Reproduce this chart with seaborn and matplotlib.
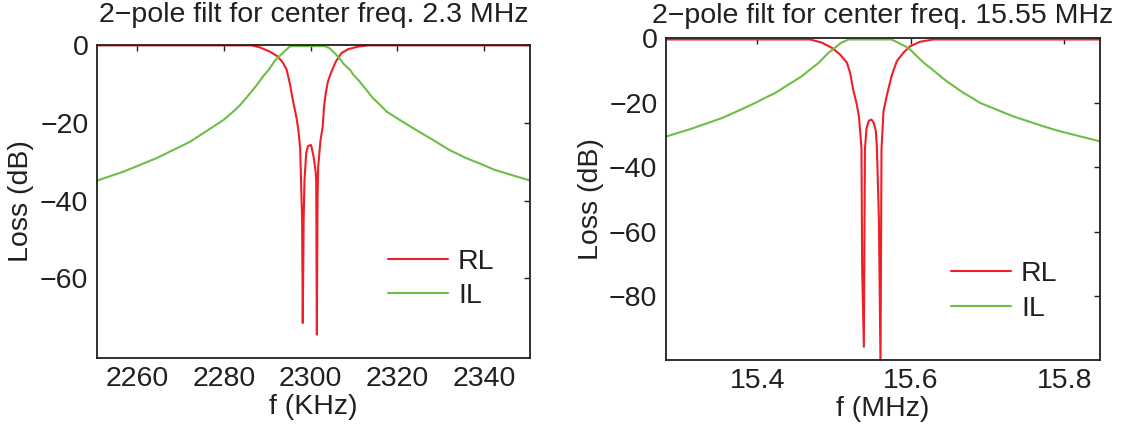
import matplotlib
matplotlib.use("Agg")
import matplotlib.pyplot as plt
import seaborn as sns
import pandas as pd

# ---------------- data ----------------
# Left panel: centre 2.3 MHz, x in KHz
rl1_f = [2250.7, 2286.4, 2288.3, 2290.6, 2292.5, 2293.7, 2294.5, 2295.2, 2295.9, 2296.7,
         2297.2, 2297.6, 2297.8, 2298.05, 2298.2, 2298.4, 2298.6, 2299.0, 2299.4, 2300.1,
         2300.7, 2301.2, 2301.3, 2301.45, 2301.6, 2301.75, 2302.3, 2302.8, 2303.1, 2303.5,
         2304.0, 2304.8, 2305.8, 2307.1, 2308.6, 2311.0, 2313.3, 2350.7]
rl1_db = [-0.1, -0.1, -0.6, -1.7, -3.0, -4.7, -6.4, -9.8, -14.1, -18.4,
          -21.9, -26.6, -34.7, -45.0, -71.5, -45.0, -34.7, -27.8, -26.0, -25.7,
          -28.7, -32.9, -34.7, -74.5, -40.0, -31.4, -24.4, -21.0, -15.9, -12.4,
          -9.4, -6.9, -4.3, -2.1, -1.1, -0.4, -0.1, -0.1]
il1_f = [2250.7, 2256.8, 2264.5, 2272.2, 2279.9, 2282.2, 2283.8, 2285.7, 2287.6, 2289.1,
         2290.4, 2291.8, 2292.9, 2294.1, 2295.3, 2303.3, 2304.4, 2305.2, 2306.0, 2306.8,
         2307.5, 2308.3, 2309.1, 2309.9, 2311.0, 2312.1, 2312.9, 2314.4, 2316.0, 2317.5,
         2320.6, 2324.4, 2328.2, 2332.0, 2335.9, 2339.7, 2342.4, 2350.7]
il1_db = [-34.9, -32.6, -29.1, -24.9, -19.3, -17.1, -15.4, -12.9, -10.3, -8.0,
          -6.3, -4.0, -2.8, -1.5, -0.3, -0.3, -0.85, -1.7, -2.6, -3.6,
          -4.7, -5.6, -6.4, -7.7, -9.0, -10.5, -11.6, -13.7, -15.4, -17.1,
          -19.3, -21.9, -24.4, -27.0, -29.1, -30.8, -32.1, -34.9]

# Right panel: centre 15.55 MHz, x in MHz
rl2_f = [15.281, 15.4691, 15.4844, 15.4974, 15.5082, 15.5169, 15.5212, 15.5251, 15.5294, 15.5326,
         15.5342, 15.5359, 15.5368, 15.5390, 15.5404, 15.5425, 15.5456, 15.5490, 15.5520, 15.5547,
         15.5560, 15.5586, 15.5607, 15.5620, 15.5646, 15.5690, 15.5753, 15.5820, 15.5906, 15.5993,
         15.6124, 15.6297, 15.846]
rl2_db = [-0.3, -0.3, -1.3, -2.9, -5.0, -7.5, -10.7, -15.9, -20.0, -24.2,
          -28.8, -34.0, -71.0, -95.7, -34.5, -27.8, -25.5, -25.2, -26.2, -28.8,
          -34.0, -55.8, -101.0, -34.5, -22.6, -17.6, -11.5, -7.0, -4.4, -2.4,
          -1.0, -0.3, -0.3]
il2_f = [15.2816, 15.3107, 15.3324, 15.3542, 15.3758, 15.3975, 15.4105, 15.4236, 15.4409, 15.4583,
         15.4691, 15.4800, 15.4865, 15.4930, 15.4987, 15.5039, 15.5095, 15.5147, 15.5186, 15.5750,
         15.5837, 15.5885, 15.5928, 15.5993, 15.6059, 15.6124, 15.6189, 15.6254, 15.6362, 15.6471,
         15.6580, 15.6688, 15.6797, 15.6905, 15.7122, 15.7339, 15.7556, 15.7773, 15.7947, 15.846]
il2_db = [-30.4, -28.3, -26.5, -24.7, -22.4, -20.0, -18.4, -16.9, -14.3, -11.7,
          -9.6, -7.6, -6.0, -4.4, -3.4, -2.4, -1.3, -0.8, -0.3, -0.3,
          -1.3, -1.9, -2.4, -3.4, -5.0, -6.5, -7.9, -9.1, -11.2, -13.3,
          -15.1, -16.9, -18.4, -20.0, -22.1, -24.2, -25.9, -27.6, -28.8, -31.9]

titles = ["2\u2212pole filt for center freq. 2.3 MHz",
          "2\u2212pole filt for center freq. 15.55 MHz"]
xlabels = ["f (KHz)", "f (MHz)"]
ylabel = "Loss (dB)"
xticks1 = [2260, 2280, 2300, 2320, 2340]
yticks1 = [0, -20, -40, -60]
xticks2 = [15.4, 15.6, 15.8]
yticks2 = [0, -20, -40, -60, -80]
series_names = ["RL", "IL"]

# ---------------- style ----------------
sns.set_theme(style="white")
plt.rcParams["font.family"] = ["Liberation Sans", "DejaVu Sans"]
TXT = "#231f20"
RED = "#ee1f26"
GREEN = "#6dbe45"
FS = 20.5

fig = plt.figure(figsize=(11.34, 4.36), dpi=100)
ax1 = fig.add_axes([0.0853, 0.1789, 0.3825, 0.7179])
ax2 = fig.add_axes([0.5871, 0.1743, 0.3825, 0.7374])

panels = [
    (ax1, rl1_f, rl1_db, il1_f, il1_db, (2250.7, 2350.7), (-80.5, 0), xticks1, yticks1,
     [f"{v:d}" for v in xticks1], 16.5, (0.672, 0.252)),
    (ax2, rl2_f, rl2_db, il2_f, il2_db, (15.281, 15.846), (-99.8, 0), xticks2, yticks2,
     [f"{v:.1f}" for v in xticks2], 11.5, (0.658, 0.213)),
]

for i, (ax, rf, rd, gf, gd, xl, yl, xt, yt, xtl, tpad, lpos) in enumerate(panels):
    df_rl = pd.DataFrame({"f": rf, "dB": rd})
    df_il = pd.DataFrame({"f": gf, "dB": gd})
    sns.lineplot(data=df_rl, x="f", y="dB", ax=ax, color=RED, linewidth=1.5,
                 estimator=None, sort=False, label=series_names[0])
    sns.lineplot(data=df_il, x="f", y="dB", ax=ax, color=GREEN, linewidth=1.5,
                 estimator=None, sort=False, label=series_names[1])
    ax.set_xlim(*xl)
    ax.set_ylim(*yl)
    ax.set_xticks(xt)
    ax.set_xticklabels(xtl)
    ax.set_yticks(yt)
    ax.set_yticklabels([("\u2212" + str(-v)) if v < 0 else str(v) for v in yt])
    ax.tick_params(direction="in", top=True, right=True, length=4, width=1,
                   labelsize=FS, colors=TXT, pad=6)
    for sp in ax.spines.values():
        sp.set_color(TXT)
        sp.set_linewidth(1.3)
        sp.set_visible(True)
    ax.set_title(titles[i], fontsize=FS, color=TXT, pad=tpad)
    ax.set_xlabel(xlabels[i], fontsize=FS, color=TXT, labelpad=1)
    ax.set_ylabel(ylabel, fontsize=FS, color=TXT, labelpad=4)
    ax.legend(loc="center left", bbox_to_anchor=lpos, frameon=False, fontsize=FS,
              handlelength=2.1, handletextpad=0.35, labelspacing=0.3,
              borderpad=0, borderaxespad=0, labelcolor=TXT)
    ax.set_facecolor("white")

fig.savefig("out.png", dpi=100, facecolor="white")
